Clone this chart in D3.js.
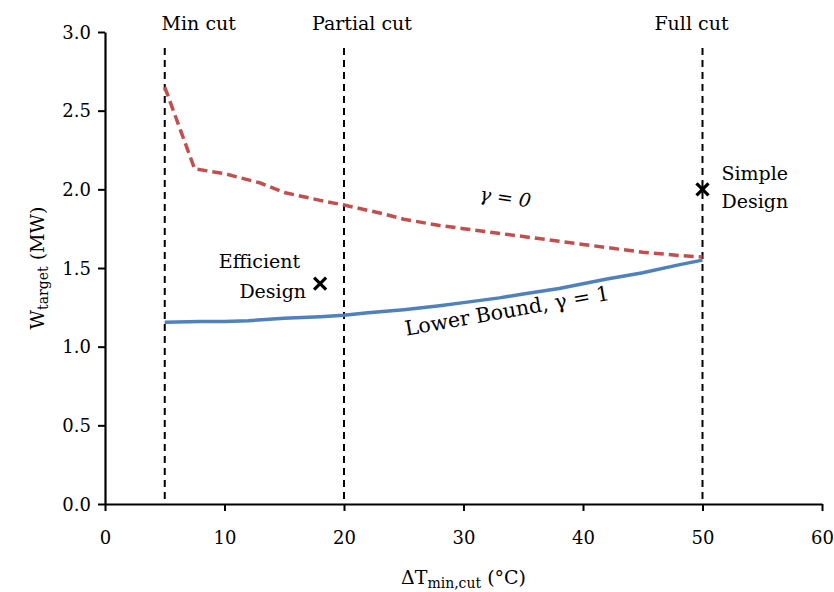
<!DOCTYPE html>
<html>
<head>
<meta charset="utf-8">
<script src="https://cdn.jsdelivr.net/npm/d3@7"></script>
<style>
  body { margin: 0; background: #fff; }
  svg text { font-family: "DejaVu Serif", "Liberation Serif", serif; fill: #000; }
</style>
</head>
<body>
<svg id="chart"></svg>
<script>
var width = 834, height = 592;
var margin = {left: 105, right: 12, top: 32, bottom: 88};
var fontSize = 19;

//Curves
var tempDiffs = [5, 7.5, 10, 13, 15, 18, 20, 23, 25, 28, 30, 32, 35, 38, 40, 43, 45, 48, 50];
var gammaZero = [2.65, 2.13, 2.10, 2.04, 1.98, 1.93, 1.90, 1.85, 1.81, 1.77, 1.75, 1.73, 1.70, 1.67, 1.65, 1.62, 1.60, 1.58, 1.57];
var blueTemps = [5, 8, 10, 12, 15, 18, 20, 22, 25, 28, 30, 33, 35, 38, 40, 42, 45, 48, 50];
var lowerBound = [1.155, 1.16, 1.16, 1.165, 1.18, 1.19, 1.20, 1.215, 1.235, 1.26, 1.28, 1.31, 1.335, 1.37, 1.40, 1.43, 1.47, 1.52, 1.55];

//Cut lines and the two designs
var cutTemps = [5, 20, 50];
var cutLabels = ["Min cut", "Partial cut", "Full cut"];
var designNames = ["Efficient", "Simple"];
var designTemps = [18, 50];
var designPower = [1.40, 2.0];

var xTicks = [0, 10, 20, 30, 40, 50, 60];
var yTicks = [0, 0.5, 1.0, 1.5, 2.0, 2.5, 3.0];

var svg = d3.select("#chart").attr("width", width).attr("height", height);

var x = d3.scaleLinear().domain([0, 60]).range([margin.left, width - margin.right]);
var y = d3.scaleLinear().domain([0, 3]).range([height - margin.bottom, margin.top]);

//Axes
var xAxis = svg.append("g")
    .attr("transform", "translate(0," + y(0) + ")")
    .call(d3.axisBottom(x).tickValues(xTicks).tickSize(7).tickSizeOuter(0).tickFormat(d3.format("d")));
var yAxis = svg.append("g")
    .attr("transform", "translate(" + x(0) + ",0)")
    .call(d3.axisLeft(y).tickValues(yTicks).tickSize(7).tickSizeOuter(0).tickFormat(d3.format(".1f")));

[xAxis, yAxis].forEach(function(ax){
    ax.select(".domain").attr("stroke", "#000").attr("stroke-width", 2.2);
    ax.selectAll(".tick line").attr("stroke", "#000").attr("stroke-width", 2);
    ax.selectAll(".tick text").attr("font-size", 18).attr("font-family", "DejaVu Serif").attr("fill", "#000");
});
xAxis.selectAll(".tick text").attr("dy", "1.65em");
yAxis.selectAll(".tick text").attr("x", -14).attr("dy", "0.35em");

//Vertical cut lines
svg.selectAll(".cut").data(cutTemps).enter().append("line")
    .attr("x1", function(d){ return x(d); })
    .attr("x2", function(d){ return x(d); })
    .attr("y1", 48)
    .attr("y2", y(0))
    .attr("stroke", "#000")
    .attr("stroke-width", 2)
    .attr("stroke-dasharray", "7,5");

var cutOffsets = [34, 18, -11];
svg.selectAll(".cutlabel").data(cutLabels).enter().append("text")
    .attr("x", function(d, i){ return x(cutTemps[i]) + cutOffsets[i]; })
    .attr("y", 30)
    .attr("text-anchor", "middle")
    .attr("font-size", fontSize)
    .text(function(d){ return d; });

//Curves
var redPts = tempDiffs.map(function(t, i){ return [t, gammaZero[i]]; });
var bluePts = blueTemps.map(function(t, i){ return [t, lowerBound[i]]; });
var line = d3.line().x(function(d){ return x(d[0]); }).y(function(d){ return y(d[1]); });

svg.append("path").datum(bluePts)
    .attr("d", line)
    .attr("fill", "none")
    .attr("stroke", "#4F81BD")
    .attr("stroke-width", 3.5);

svg.append("path").datum(redPts)
    .attr("d", line)
    .attr("fill", "none")
    .attr("stroke", "#C0504D")
    .attr("stroke-width", 3.5)
    .attr("stroke-dasharray", "10,5");

//Design markers (x shaped)
designTemps.forEach(function(t, i){
    var cx = x(t), cy = y(designPower[i]), s = 6;
    svg.append("path")
        .attr("d", "M" + (cx - s) + "," + (cy - s) + "L" + (cx + s) + "," + (cy + s) +
                   "M" + (cx - s) + "," + (cy + s) + "L" + (cx + s) + "," + (cy - s))
        .attr("stroke", "#000")
        .attr("stroke-width", 3.2);
});

//Design labels
var eff = svg.append("text").attr("font-size", fontSize).attr("text-anchor", "end");
eff.append("tspan").attr("x", x(designTemps[0]) - 20).attr("y", y(designPower[0]) - 16).text(designNames[0]);
eff.append("tspan").attr("x", x(designTemps[0]) - 14).attr("y", y(designPower[0]) + 14).text("Design");

var simp = svg.append("text").attr("font-size", fontSize).attr("text-anchor", "start");
simp.append("tspan").attr("x", x(designTemps[1]) + 19).attr("y", y(designPower[1]) - 9).text(designNames[1]);
simp.append("tspan").attr("x", x(designTemps[1]) + 19).attr("y", y(designPower[1]) + 19).text("Design");

//Curve labels
svg.append("text")
    .attr("transform", "translate(" + x(31.3) + "," + y(1.93) + ") rotate(8)")
    .attr("font-size", fontSize)
    .attr("font-style", "italic")
    .text("\u03B3 = 0");

svg.append("text")
    .attr("transform", "translate(" + x(25.2) + "," + y(1.07) + ") rotate(-10)")
    .attr("font-size", 20.5)
    .text("Lower Bound, \u03B3 = 1");

//Axis titles
var xt = svg.append("text")
    .attr("x", (x(0) + x(60)) / 2)
    .attr("y", 584)
    .attr("text-anchor", "middle")
    .attr("font-size", fontSize);
xt.append("tspan").text("\u0394T");
xt.append("tspan").attr("font-size", 14).attr("dy", 4).text("min,cut");
xt.append("tspan").attr("dy", -4).text(" (\u00B0C)");

var yt = svg.append("text")
    .attr("transform", "translate(44," + ((y(0) + y(3)) / 2) + ") rotate(-90)")
    .attr("text-anchor", "middle")
    .attr("font-size", fontSize);
yt.append("tspan").text("W");
yt.append("tspan").attr("font-size", 14).attr("dy", 4).text("target");
yt.append("tspan").attr("dy", -4).text(" (MW)");
</script>
</body>
</html>
